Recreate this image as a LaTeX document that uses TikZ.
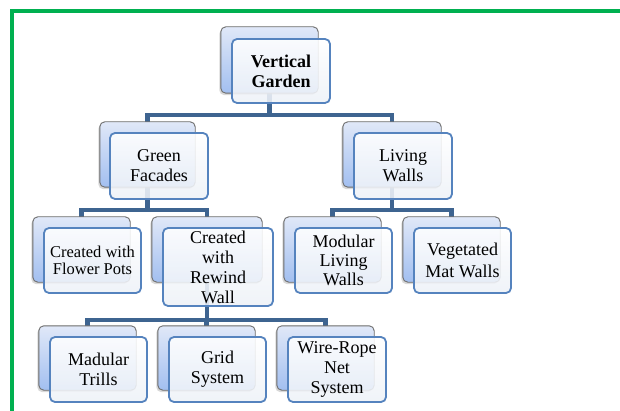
\documentclass[tikz,border=0pt]{standalone}
\usepackage{fontspec}
\setmainfont{Liberation Serif}
\usetikzlibrary{shadows}
\definecolor{framegreen}{HTML}{00B050}
\definecolor{connblue}{HTML}{3E6490}
\definecolor{frontblue}{HTML}{5583BE}
\definecolor{backtop}{HTML}{E0E8F8}
\definecolor{backbot}{HTML}{A2BFF0}
\definecolor{frontbot}{HTML}{EEF2F8}
\tikzset{
  backbox/.style={rectangle, rounded corners=5pt, draw=gray!85!black, line width=0.9pt,
    top color=backtop, bottom color=backbot,
    drop shadow={shadow xshift=-1.5pt, shadow yshift=-2pt, opacity=0.3}},
  frontbox/.style={rectangle, rounded corners=5pt, draw=frontblue, line width=1.8pt,
    top color=white, bottom color=frontbot, fill opacity=0.88, draw opacity=1, text opacity=1,
    align=center, inner sep=1pt, font=\fontsize{18}{20}\selectfont},
  conn/.style={draw=connblue, line width=4.5pt}
}
\begin{document}
\begin{tikzpicture}[x=1pt,y=-1pt]
\useasboundingbox (0,0) rectangle (620,411);
\clip (0,0) rectangle (620,411);
\fill[white] (0,0) rectangle (620,411);
\draw[framegreen, line width=3.4pt] (12,11) rectangle (640,440);

\coordinate (b1) at (0,115);
\coordinate (b2) at (0,210);
\coordinate (b3) at (0,320);

% back boxes (positions only, drawn later)
\path
 node[minimum width=97pt, minimum height=66pt] (vgB) at (269.5,60) {}
 node[minimum width=95pt, minimum height=65pt] (gfB) at (147.5,154.5) {}
 node[minimum width=98pt, minimum height=65pt] (lwB) at (392,154.5) {}
 node[minimum width=97pt, minimum height=65pt] (fpB) at (81.5,249.5) {}
 node[minimum width=110pt, minimum height=65pt] (rwB) at (207,249.5) {}
 node[minimum width=97pt, minimum height=65pt] (mlB) at (332.5,249.5) {}
 node[minimum width=97pt, minimum height=65pt] (vmB) at (451.5,249.5) {}
 node[minimum width=97pt, minimum height=64pt] (mtB) at (87.5,358) {}
 node[minimum width=97pt, minimum height=64pt] (gsB) at (206.5,358) {}
 node[minimum width=97pt, minimum height=64pt] (wrB) at (325.5,358) {};

% connectors
\draw[conn] (vgB.center) -- (vgB.center |- b1);
\draw[conn] (gfB.center) |- (lwB.center |- b1) -- (lwB.center);
\draw[conn] (gfB.center) -- (gfB.center |- b2);
\draw[conn] (fpB.center) |- (rwB.center |- b2) -- (rwB.center);
\draw[conn] (lwB.center) -- (lwB.center |- b2);
\draw[conn] (mlB.center) |- (vmB.center |- b2) -- (vmB.center);
\draw[conn] (rwB.center) -- (rwB.center |- b3);
\draw[conn] (mtB.center) |- (wrB.center |- b3) -- (wrB.center);
\draw[conn] (gsB.center) -- (gsB.center |- b3);

% back boxes drawn
\foreach \n in {vgB,gfB,lwB,fpB,rwB,mlB,vmB,mtB,gsB,wrB}{
  \path[backbox] (\n.north west) rectangle (\n.south east);
}

% front boxes
\node[frontbox, minimum width=98pt, minimum height=64pt] (vg) at (281,71) {\textbf{Vertical}\\\textbf{Garden}};
\node[frontbox, minimum width=98pt, minimum height=66pt] (gf) at (159,166) {Green\\Facades};
\node[frontbox, minimum width=98pt, minimum height=66pt] (lw) at (403,166) {Living\\Walls};
\node[frontbox, minimum width=97pt, minimum height=65pt, font=\fontsize{16.5}{17}\selectfont] (fp) at (92.5,260.5) {Created with\\Flower Pots};
\node[frontbox, minimum width=110pt, minimum height=78pt] (rw) at (218,267) {Created\\with\\Rewind\\Wall};
\node[frontbox, minimum width=97pt, minimum height=65pt, font=\fontsize{18}{19}\selectfont] (ml) at (343.5,260.5) {Modular\\Living\\Walls};
\node[frontbox, minimum width=97pt, minimum height=65pt, font=\fontsize{18}{22}\selectfont] (vm) at (462.5,260.5) {Vegetated\\Mat Walls};
\node[frontbox, minimum width=97pt, minimum height=65pt] (mt) at (98.5,369.5) {Madular\\Trills};
\node[frontbox, minimum width=97pt, minimum height=65pt] (gs) at (217.5,369.5) {Grid\\System};
\node[frontbox, minimum width=98pt, minimum height=65pt] (wr) at (337,369.5) {Wire-Rope\\Net\\System};
\end{tikzpicture}
\end{document}
